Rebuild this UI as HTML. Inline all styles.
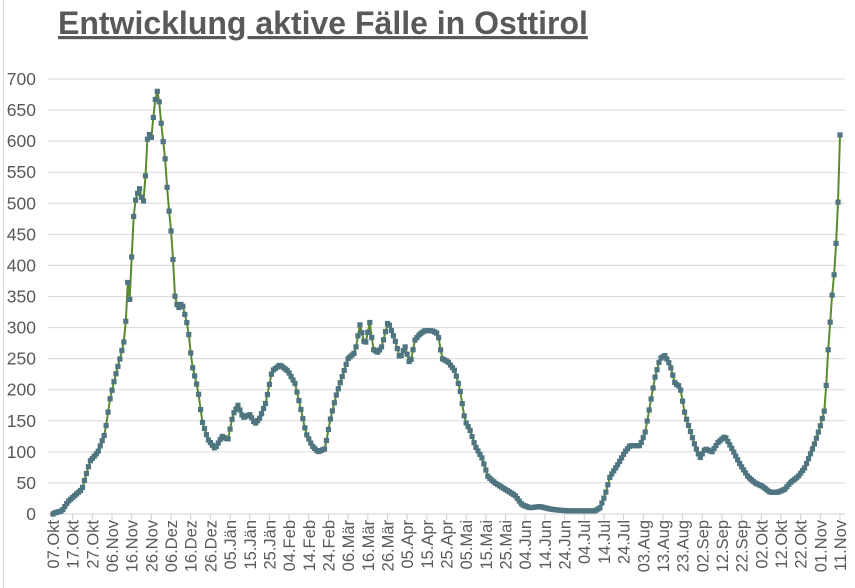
<!DOCTYPE html>
<html><head><meta charset="utf-8"><style>
body{margin:0;background:#fff;}
svg{display:block;font-family:"Liberation Sans",sans-serif;}
</style></head><body>
<svg id="s" width="855" height="588" xmlns="http://www.w3.org/2000/svg">
<line x1="3.5" y1="0" x2="3.5" y2="588" stroke="#d9d9d9"/>
<text x="58" y="34" font-size="32" font-weight="bold" fill="#595959" text-decoration="underline">Entwicklung aktive Fälle in Osttirol</text>
<g id="grid"></g>
<g id="xl"></g>
<polyline id="ln" fill="none" stroke="#5b8a2c" stroke-width="2"/>
<g id="mk" fill="#4f7580"></g>
</svg>
<script>
const ns="http://www.w3.org/2000/svg",s=document.getElementById('s');
function el(t,a,p,txt){const e=document.createElementNS(ns,t);for(const k in a)e.setAttribute(k,a[k]);if(txt!=null)e.textContent=txt;document.getElementById(p).appendChild(e);return e;}
const y0=514,k=435/700;
for(let v=0;v<=700;v+=50){const y=y0-v*k;
 if(v>0)el('line',{x1:48,x2:845,y1:y,y2:y,stroke:'#d9d9d9'},'grid');
 el('text',{x:36,y:y+6,'font-size':17.5,fill:'#595959','text-anchor':'end'},'grid',v);}
el('line',{x1:48,x2:845,y1:y0,y2:y0,stroke:'#d0d0d0'},'grid');
const labs="07.Okt 17.Okt 27.Okt 06.Nov 16.Nov 26.Nov 06.Dez 16.Dez 26.Dez 05.Jän 15.Jän 25.Jän 04.Feb 14.Feb 24.Feb 06.Mär 16.Mär 26.Mär 05.Apr 15.Apr 25.Apr 05.Mai 15.Mai 25.Mai 04.Jun 14.Jun 24.Jun 04.Jul 14.Jul 24.Jul 03.Aug 13.Aug 23.Aug 02.Sep 12.Sep 22.Sep 02.Okt 12.Okt 22.Okt 01.Nov 11.Nov".split(' ');
labs.forEach((l,i)=>{const x=53+i*19.675;
 el('line',{x1:x,x2:x,y1:y0,y2:y0+6,stroke:'#d0d0d0'},'xl');
 el('text',{transform:`translate(${x+6},${y0+6}) rotate(-90)`,'font-size':16.5,fill:'#595959','text-anchor':'end'},'xl',l);});
const P=[[53,0],[55,2],[62,5],[68,20],[75,30],[82,40],[90,85],[98,100],[105,130],[110,185],[115,220],[120,250],[125,285],[128,380],[130,340],[133,470],[136,510],[140,525],[143,495],[145,530],[148,620],[151,600],[155,665],[158,685],[162,615],[165,575],[168,505],[172,440],[175,350],[178,330],[182,340],[188,300],[192,240],[198,200],[202,150],[208,120],[215,105],[222,125],[228,120],[233,160],[238,175],[243,155],[250,160],[255,145],[260,155],[266,180],[272,230],[280,240],[288,230],[295,210],[300,175],[306,130],[312,110],[318,100],[325,105],[330,150],[336,190],[342,220],[348,250],[355,260],[360,305],[365,270],[370,310],[373,265],[378,260],[382,270],[388,310],[395,280],[400,250],[405,270],[410,240],[415,280],[420,290],[425,295],[432,295],[438,290],[442,250],[448,245],[455,230],[460,200],[465,150],[470,135],[475,110],[482,90],[488,60],[495,50],[505,40],[515,30],[522,15],[530,10],[540,12],[550,8],[560,6],[570,5],[585,5],[595,5],[600,10],[605,30],[610,60],[618,80],[625,100],[630,110],[640,110],[645,130],[650,175],[655,220],[660,250],[665,255],[670,240],[675,210],[680,205],[685,160],[690,135],[695,110],[700,90],[705,105],[712,100],[718,115],[725,125],[732,105],[740,80],[748,60],[755,50],[762,45],[770,35],[778,35],[785,40],[790,50],[798,60],[805,75],[810,95],[815,115],[820,140],[825,170],[828,260],[832,350],[835,400],[838,500],[840,610]];
function val(x){for(let i=1;i<P.length;i++){if(x<=P[i][0]){const a=P[i-1],b=P[i];return a[1]+(b[1]-a[1])*(x-a[0])/(b[0]-a[0]);}}return P[P.length-1][1];}
let pts=[];
for(let d=0;d<=400;d++){const x=Math.min(53+d*1.9675,840);const y=y0-val(x)*k;pts.push(x.toFixed(1)+','+y.toFixed(1));
 el('rect',{x:x-2.6,y:y-2.6,width:5.2,height:5.2},'mk');}
document.getElementById('ln').setAttribute('points',pts.join(' '));
</script>
</body></html>
